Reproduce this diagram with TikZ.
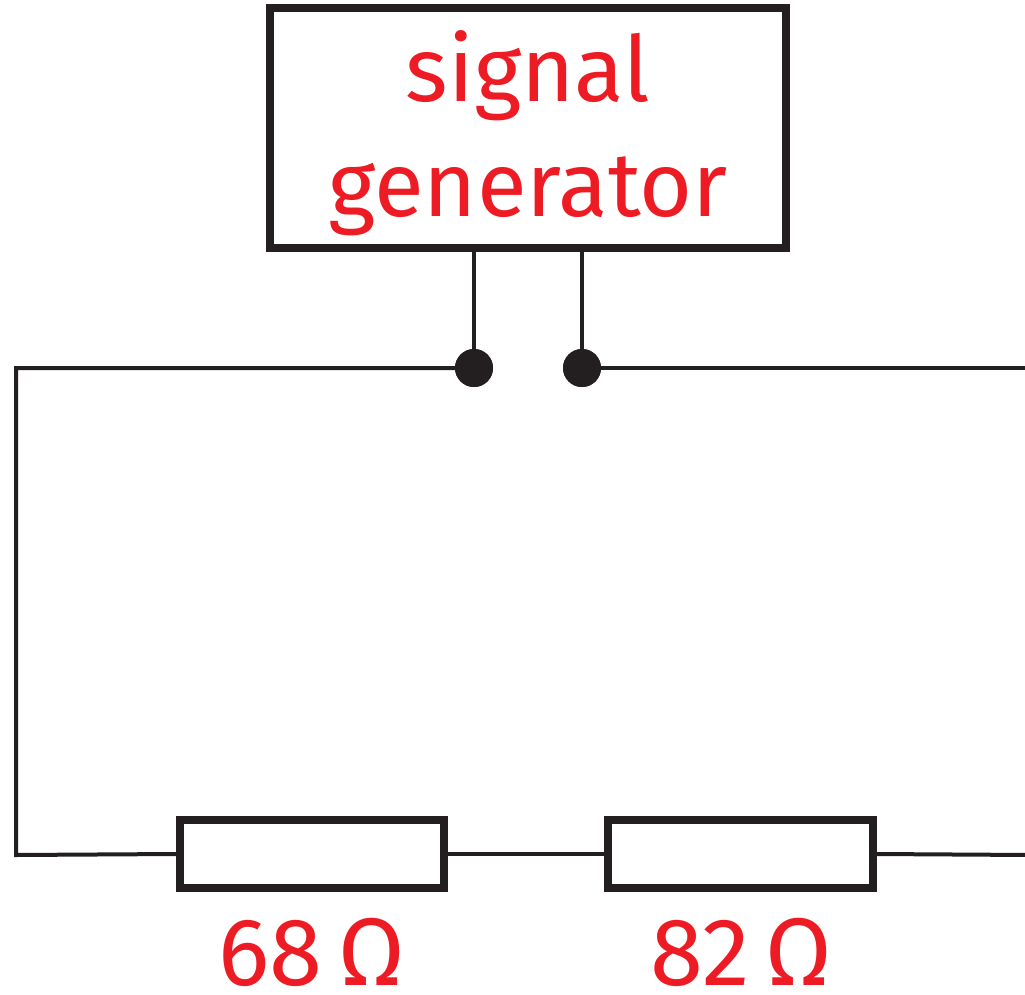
\documentclass[tikz,border=0pt]{standalone}
\usepackage{fontspec}
\setmainfont{Fira Sans}
\definecolor{ink}{HTML}{231F20}
\definecolor{lbl}{HTML}{ED1C24}
\begin{document}
\begin{tikzpicture}[x=1pt,y=-1pt,
  wire/.style={draw=ink,line width=4pt},
  boxstyle/.style={draw=ink,line width=8pt,fill=white,inner sep=0pt,rectangle},
  txt/.style={text=lbl,font=\fontsize{91}{110}\selectfont,inner sep=0pt,anchor=base},
  lbltxt/.style={text=lbl,font=\fontsize{96}{110}\selectfont,inner sep=0pt,anchor=base},
  dot/.style={circle,fill=ink,minimum size=38pt,inner sep=0pt}]
\useasboundingbox (0,0) rectangle (1025,995);
\node[boxstyle,minimum width=516pt,minimum height=240pt] (gen) at (528,128) {};
\node[txt] (t1) at (528,102) {signal};
\node[txt] (t2) at (528,217) {generator};
\node[dot] (d1) at (474,368) {};
\node[dot] (d2) at (582,368) {};
\coordinate (g1) at (474,248);
\coordinate (g2) at (582,248);
\coordinate (tl) at (16,368);
\coordinate (bl) at (16,855);
\coordinate (tr) at (1030,368);
\coordinate (br) at (1030,855);
\node[boxstyle,minimum width=264pt,minimum height=68pt] (r1) at (312,854) {};
\node[boxstyle,minimum width=265pt,minimum height=68pt] (r2) at (740.5,854) {};
\draw[wire] (g1) -- (d1.center);
\draw[wire] (g2) -- (d2.center);
\draw[wire] (d1.center) -- (tl) -- (bl) -- (r1.west);
\draw[wire] (d2.center) -- (tr);
\draw[wire] (r1.east) -- (r2.west);
\draw[wire] (r2.east) -- (br);
\node[dot] at (d1) {};
\node[dot] at (d2) {};
\node[lbltxt] (l1) at (312,985) {68\,Ω};
\node[lbltxt] (l2) at (741,985) {82\,Ω};
\end{tikzpicture}
\end{document}
